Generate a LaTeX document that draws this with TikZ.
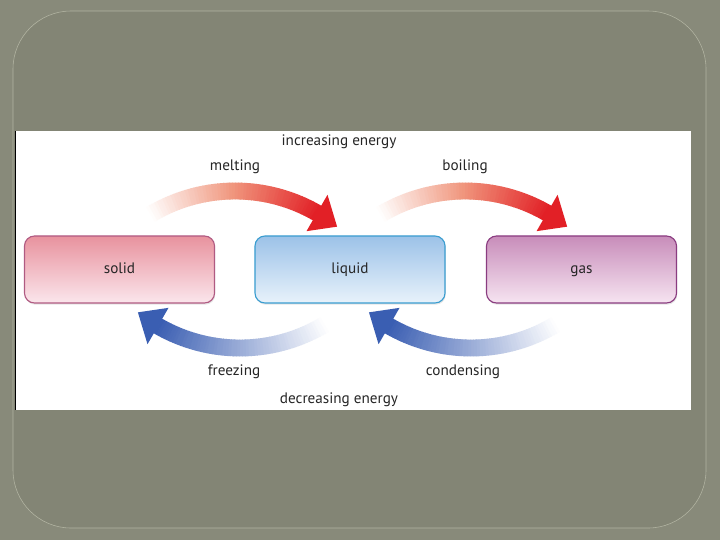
\documentclass[tikz,border=0pt]{standalone}
\usepackage{fontspec}
\setmainfont{PT Sans}
\usetikzlibrary{shadows}

\definecolor{slidebg}{HTML}{888A7A}
\definecolor{slidein}{HTML}{838575}
\definecolor{slideline}{HTML}{B3B5A3}
\definecolor{heatred}{RGB}{226,32,38}
\definecolor{heatmid}{RGB}{240,150,125}
\definecolor{coolblue}{RGB}{58,94,178}
\definecolor{solidtop}{HTML}{E8929E}
\definecolor{solidbot}{HTML}{FBE6EC}
\definecolor{solidline}{HTML}{B05A82}
\definecolor{liquidtop}{HTML}{9CC2E8}
\definecolor{liquidbot}{HTML}{E8F2FB}
\definecolor{liquidline}{HTML}{3A9DD0}
\definecolor{gastop}{HTML}{C88DBA}
\definecolor{gasbot}{HTML}{F6E4F1}
\definecolor{gasline}{HTML}{8A3C80}

\tikzset{
  phase/.style={draw, line width=0.8pt, rounded corners=0.25cm,
    minimum width=4.75cm, minimum height=1.675cm,
    text height=1.6ex, text depth=0.45ex,
    font=\fontsize{10.8}{13}\selectfont, text=black!85,
    drop shadow={opacity=0.2, shadow xshift=0.5pt, shadow yshift=-1.2pt}},
  lbl/.style={font=\fontsize{10.8}{13}\selectfont, text=black!85},
  band/.style={line width=12pt, line cap=butt},
}

\begin{document}
\begin{tikzpicture}[x=0.025cm, y=-0.025cm]

    % slide background
    \fill[slidebg] (0,0) rectangle (720,540);
    \draw[slideline, fill=slidein, rounded corners=1.45cm] (13,11) rectangle (706,528);
    \fill[white] (15,131) rectangle (691,410);
    \draw[black, line width=0.8pt] (15.4,131) -- (15.4,410);

    % phases
    \node[phase, draw=solidline, top color=solidtop, bottom color=solidbot] (solid) at (119.5,269.5) {solid};
    \node[phase, draw=liquidline, top color=liquidtop, bottom color=liquidbot] (liquid) at (350,269.5) {liquid};
    \node[phase, draw=gasline, top color=gastop, bottom color=gasbot] (gas) at (581.5,269.5) {gas};

    % heating arrows
    \foreach \sx in {0,5.75cm} {
      \begin{scope}[xshift=\sx]
        \foreach \a in {0,...,61} {
          \pgfmathtruncatemacro\p{\a*100/61}
          \ifnum\p<50
            \pgfmathtruncatemacro\q{2*\p}
            \colorlet{seg}{heatmid!\q!white}
          \else
            \pgfmathtruncatemacro\q{2*\p-100}
            \colorlet{seg}{heatred!\q!heatmid}
          \fi
          \draw[band, seg] ({235+164*cos(122-\a)},{355-164*sin(122-\a)})
            -- ({235+164*cos(120.8-\a)},{355-164*sin(120.8-\a)});
        }
        \fill[heatred] ({235+185*cos(60)},{355-185*sin(60)})
          -- ({235+164*cos(51.5)},{355-164*sin(51.5)})
          -- ({235+143*cos(60)},{355-143*sin(60)}) -- cycle;
      \end{scope}
    }

    % cooling arrows
    \foreach \sx in {0,5.775cm} {
      \begin{scope}[xshift=\sx]
        \foreach \a in {0,...,61} {
          \pgfmathtruncatemacro\p{\a*100/61}
          \draw[band, coolblue!\p!white] ({240+164*cos(302-\a)},{184-164*sin(302-\a)})
            -- ({240+164*cos(300.8-\a)},{184-164*sin(300.8-\a)});
        }
        \fill[coolblue] ({240+185*cos(240)},{184-185*sin(240)})
          -- ({240+164*cos(231.5)},{184-164*sin(231.5)})
          -- ({240+143*cos(240)},{184-143*sin(240)}) -- cycle;
      \end{scope}
    }

    % labels
    \node[lbl] (inc) at (339,142) {increasing energy};
    \node[lbl] (melt) at (235,167) {melting};
    \node[lbl] (boil) at (465,167) {boiling};
    \node[lbl] (freeze) at (234,372) {freezing};
    \node[lbl] (cond) at (463,372) {condensing};
    \node[lbl] (dec) at (339,400) {decreasing energy};

\end{tikzpicture}
\end{document}
